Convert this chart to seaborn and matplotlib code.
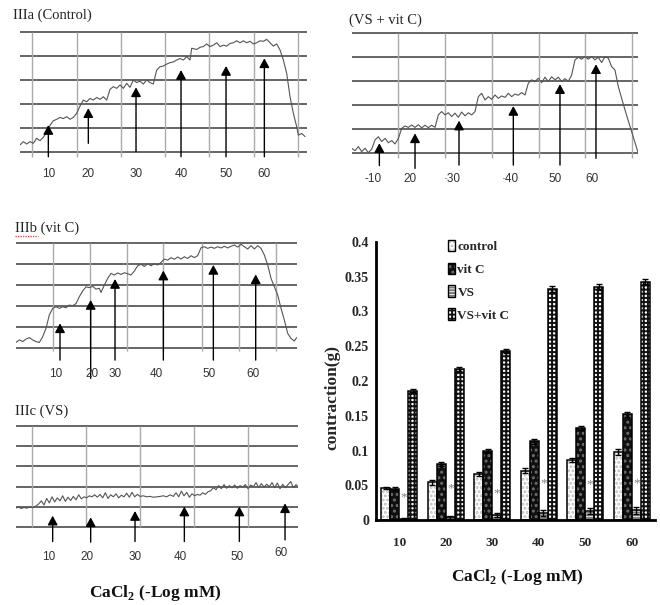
import numpy as np
import pandas as pd
import matplotlib
matplotlib.use("Agg")
import matplotlib.pyplot as plt
import seaborn as sns
from matplotlib.patches import Rectangle, Patch
from matplotlib.container import BarContainer

# ---------------- bar chart data ----------------
conc_labels = ["10", "20", "30", "40", "50", "60"]
groups = ["control", "vit C", "VS", "VS+vit C"]
control = [0.046, 0.054, 0.066, 0.071, 0.086, 0.098]
vit_c = [0.045, 0.081, 0.099, 0.113, 0.132, 0.152]
vs = [0.002, 0.004, 0.007, 0.010, 0.013, 0.014]
vs_vit_c = [0.186, 0.217, 0.243, 0.332, 0.335, 0.343]
err_control = [0.002, 0.003, 0.003, 0.004, 0.003, 0.004]
err_vit_c = [0.002, 0.003, 0.003, 0.004, 0.003, 0.004]
err_vs = [0.001, 0.002, 0.003, 0.004, 0.004, 0.005]
err_vs_vit_c = [0.002, 0.003, 0.003, 0.004, 0.004, 0.004]
star_y = [0.032, 0.045, 0.039, 0.053, 0.052, 0.053]
y_ticks = [0, 0.05, 0.1, 0.15, 0.2, 0.25, 0.3, 0.35, 0.4]
y_tick_labels = ["0", "0.05", "0.1", "0.15", "0.2", "0.25", "0.3", "0.35", "0.4"]

# ---------------- trace data (time units, grid units) ----------------
# IIIa (Control)
a_t = [60, 70, 80, 90, 100, 110, 120, 130, 140, 150, 160, 170, 180, 190, 200, 210, 220, 230, 240, 250,
       260, 270, 280, 290, 300, 310, 320, 330, 340, 350, 360, 370, 380, 390, 400, 410, 420, 430, 440, 450,
       460, 470, 480, 490, 500, 510, 520, 530, 540, 550, 560, 570, 575, 590, 600, 610, 620, 630, 640, 650,
       660, 670, 680, 690, 700, 710, 720, 730, 740, 750, 760, 770, 780, 790, 800, 810, 820, 830, 840, 850,
       860, 870, 880, 890, 895, 905, 915]
a_u = [0.28, 0.42, 0.32, 0.42, 0.35, 0.56, 0.46, 0.60, 0.83, 1.10, 1.29, 1.35, 1.43, 1.38, 1.46, 1.35, 1.43, 1.60, 1.90, 2.15,
       2.08, 2.22, 2.15, 2.26, 2.18, 2.29, 2.15, 2.60, 2.71, 2.64, 2.78, 2.64, 2.85, 2.68, 2.99, 2.88, 2.94, 2.82, 2.99, 2.88,
       2.82, 3.40, 3.54, 3.57, 3.65, 3.71, 3.74, 3.82, 3.88, 3.82, 3.96, 3.82, 4.31, 4.26, 4.35, 4.38, 4.49, 4.38, 4.44, 4.54,
       4.38, 4.44, 4.40, 4.51, 4.54, 4.62, 4.54, 4.62, 4.54, 4.60, 4.49, 4.54, 4.62, 4.60, 4.68, 4.54, 4.40, 4.49, 4.24, 3.82,
       3.26, 2.29, 1.60, 1.04, 0.69, 0.76, 0.63]
a_grid = [97, 230, 363, 495, 628, 762, 895]
a_arrow_t = [145, 265, 408, 543, 678, 793]
a_arrow_base = [-0.21, 0.35, 0.0, -0.21, -0.21, -0.21]
a_arrow_tip = [1.11, 1.81, 2.68, 3.40, 3.57, 3.89]
a_lab_t = [145, 265, 408, 543, 678, 793]
a_labels = ["10", "20", "30", "40", "50", "60"]
a_lab_u = [-0.94] * 6

# (VS + vit C)
d_t = [35, 45, 55, 65, 75, 85, 95, 105, 115, 125, 135, 145, 155, 165, 175, 185, 195, 205, 215, 225,
       235, 245, 255, 265, 275, 285, 295, 305, 315, 325, 335, 345, 355, 365, 375, 385, 395, 405, 415, 425,
       435, 445, 455, 465, 475, 485, 495, 505, 515, 525, 535, 545, 555, 565, 575, 585, 595, 605, 615, 625,
       635, 645, 655, 665, 675, 685, 695, 705, 715, 725, 735, 745, 755, 765, 775, 785, 795, 805, 815, 825,
       835, 855, 875, 895]
d_u = [0.21, 0.11, 0.28, 0.07, 0.21, 0.03, 0.17, 0.56, 0.69, 0.49, 0.62, 0.44, 0.53, 0.39, 0.62, 1.04, 1.14, 1.08, 1.18, 1.08,
       1.19, 1.06, 1.17, 1.07, 1.17, 1.08, 1.60, 1.74, 1.60, 1.69, 1.53, 1.67, 1.50, 1.72, 1.56, 1.69, 1.60, 1.74, 2.36, 2.50,
       2.22, 2.36, 2.25, 2.43, 2.29, 2.39, 2.33, 2.50, 2.36, 2.47, 2.42, 2.53, 2.43, 2.92, 3.06, 2.99, 3.13, 2.94, 3.17, 2.99,
       3.19, 3.06, 3.17, 2.99, 3.11, 3.00, 3.26, 3.89, 4.00, 3.92, 4.03, 3.92, 4.03, 3.89, 4.00, 3.78, 4.03, 3.96, 3.61, 3.47,
       2.78, 1.81, 0.90, 0.00]
d_grid = [175, 316, 456, 596, 736, 877]
d_arrow_t = [118, 225, 357, 520, 660, 768]
d_arrow_base = [-0.51, -0.63, -0.49, -0.49, -0.49, -0.21]
d_arrow_tip = [0.42, 0.83, 1.36, 1.97, 2.88, 3.71]
d_lab_t = [100, 210, 335, 510, 645, 755]
d_labels = ["-10", "20", "\u00b730", "\u00b740", "50", "60"]
d_lab_u = [-1.07] * 6

# IIIb (vit C)
b_t = [48, 58, 68, 78, 88, 98, 108, 118, 128, 138, 148, 158, 168, 178, 188, 198, 208, 218, 228, 238,
       248, 258, 268, 278, 288, 298, 303, 313, 323, 333, 343, 353, 363, 373, 383, 393, 403, 413, 423, 433,
       443, 453, 463, 473, 483, 493, 503, 513, 523, 533, 543, 553, 563, 573, 583, 593, 603, 613, 623, 633,
       643, 653, 663, 673, 683, 693, 703, 713, 723, 733, 743, 753, 763, 773, 783, 793, 803, 813, 823, 833,
       843, 853, 863, 873, 883, 890]
b_u = [0.25, 0.37, 0.29, 0.41, 0.48, 0.37, 0.29, 0.25, 0.52, 0.92, 1.56, 1.87, 1.95, 1.87, 1.95, 1.90, 2.03, 2.00, 2.10, 2.43,
       2.70, 2.90, 2.86, 2.92, 2.79, 2.83, 2.63, 2.98, 3.30, 3.54, 3.46, 3.56, 3.49, 3.57, 3.52, 3.46, 3.65, 3.90, 3.97, 3.87,
       4.00, 3.90, 4.00, 3.94, 4.06, 4.22, 4.17, 4.29, 4.21, 4.32, 4.22, 4.33, 4.25, 4.38, 4.29, 4.38, 4.76, 4.81, 4.73, 4.79,
       4.73, 4.81, 4.75, 4.83, 4.75, 4.83, 4.89, 4.79, 4.92, 4.81, 4.70, 4.86, 4.70, 4.86, 4.73, 4.41, 3.94, 3.30, 2.90, 2.51,
       1.87, 1.32, 0.68, 0.44, 0.32, 0.48]
b_grid = [158, 270, 380, 490, 605, 718, 828]
b_arrow_t = [180, 272, 345, 490, 640, 767]
b_arrow_base = [-0.59, -1.46, -0.59, -0.59, -0.59, -0.59]
b_arrow_tip = [1.16, 2.27, 3.27, 3.67, 3.94, 3.49]
b_lab_t = [167, 275, 345, 470, 627, 760]
b_labels = ["10", "20", "30", "40", "50", "60"]
b_lab_u = [-1.27] * 6

# IIIc (VS)
c_t = [48, 56, 64, 72, 80, 90, 100, 108, 116, 124, 132, 140, 148, 156, 164, 172, 180, 188, 196, 204,
       212, 220, 228, 236, 244, 252, 260, 268, 276, 284, 292, 300, 308, 316, 324, 332, 340, 348, 356, 364,
       372, 380, 388, 396, 404, 412, 420, 430, 440, 450, 460, 470, 480, 490, 500, 510, 520, 528, 536, 544,
       552, 560, 568, 576, 584, 592, 600, 608, 616, 624, 632, 640, 648, 656, 664, 672, 680, 688, 696, 704,
       712, 720, 728, 736, 744, 752, 760, 768, 776, 784, 792, 800, 808, 816, 824, 832, 840, 848, 856, 864,
       872, 880, 888, 893]
c_u = [0.95, 1.00, 0.92, 0.98, 0.94, 1.00, 0.97, 1.05, 1.15, 1.30, 1.10, 1.42, 1.20, 1.50, 1.25, 1.45, 1.30, 1.55, 1.28, 1.48,
       1.32, 1.52, 1.35, 1.60, 1.40, 1.50, 1.45, 1.55, 1.50, 1.60, 1.48, 1.62, 1.45, 1.70, 1.42, 1.60, 1.50, 1.65, 1.45, 1.58,
       1.50, 1.68, 1.48, 1.72, 1.50, 1.62, 1.52, 1.55, 1.50, 1.52, 1.48, 1.50, 1.52, 1.55, 1.50, 1.60, 1.52, 1.70, 1.50, 1.78,
       1.55, 1.72, 1.48, 1.65, 1.55, 1.62, 1.58, 1.70, 1.62, 1.75, 1.80, 1.95, 1.85, 2.05, 1.90, 2.10, 1.92, 2.05, 1.95, 2.08,
       1.92, 2.05, 1.98, 2.10, 1.90, 2.08, 2.00, 2.20, 1.95, 2.15, 1.98, 2.12, 2.00, 2.20, 1.95, 2.18, 1.90, 2.12, 1.95, 2.10,
       2.25, 1.95, 2.10, 2.02]
c_grid = [95, 258, 420, 583, 745]
c_arrow_t = [158, 272, 405, 553, 718, 855]
c_arrow_base = [-0.70, -0.73, -0.70, -0.70, -0.70, -0.62]
c_arrow_tip = [0.57, 0.49, 0.80, 1.02, 1.02, 1.18]
c_lab_t = [145, 262, 405, 540, 710, 842]
c_labels = ["10", "20", "30", "40", "50", "60"]
c_lab_u = [-1.44, -1.44, -1.44, -1.44, -1.44, -1.28]

# ---------------- figure ----------------
W, H = 660, 605
sns.set_style("white")
plt.rcParams["font.family"] = ["Liberation Serif", "DejaVu Serif"]
plt.rcParams["mathtext.fontset"] = "custom"
plt.rcParams["mathtext.rm"] = "Liberation Serif:bold"
plt.rcParams["mathtext.bf"] = "Liberation Serif:bold"
plt.rcParams["hatch.linewidth"] = 1.4

fig = plt.figure(figsize=(W / 100, H / 100), dpi=100)
fig.patch.set_facecolor("white")


def px_axes(l, t, r, b):
    return fig.add_axes([l / W, 1 - b / H, (r - l) / W, (b - t) / H])


def trace_panel(box, xlim, t, u, grid_t, stub, arrow_t, arrow_base, arrow_tip,
                lab_t, labels, lab_u, title, title_xy):
    ax = px_axes(*box)
    ax.set_xlim(xlim)
    ax.set_ylim(0, 5)
    ax.axis("off")
    ax.hlines(range(6), xlim[0], xlim[1], colors="#3c3c3c", lw=1.1, clip_on=False, zorder=1)
    ax.vlines(grid_t, stub, 5, colors="#a9a9a9", lw=1.0, clip_on=False, zorder=1)
    sns.lineplot(x=t, y=u, ax=ax, color="#555555", lw=0.8, zorder=2)
    for x, b0, tp in zip(arrow_t, arrow_base, arrow_tip):
        ax.annotate("", xy=(x, tp), xytext=(x, b0),
                    arrowprops=dict(arrowstyle="-|>,head_length=0.55,head_width=0.3",
                                    color="black", lw=1.0, shrinkA=0, shrinkB=0,
                                    mutation_scale=10),
                    annotation_clip=False, zorder=3)
    for x, s, yy in zip(lab_t, labels, lab_u):
        ax.text(x, yy, s, ha="center", va="center", fontsize=8.5,
                family=["Liberation Sans", "DejaVu Sans"], color="#333333", clip_on=False)
    fig.text(title_xy[0] / W, 1 - title_xy[1] / H, title, ha="left", va="center",
             fontsize=10.5, color="#222222")
    ax.set_xlabel("")
    ax.set_ylabel("")
    return ax


trace_panel((20, 31.7, 306.7, 151.7), (60, 920), a_t, a_u, a_grid, -0.2,
            a_arrow_t, a_arrow_base, a_arrow_tip, a_lab_t, a_labels, a_lab_u,
            "IIIa (Control)", (13, 15))
trace_panel((351.7, 33.3, 638.3, 153.3), (35, 895), d_t, d_u, d_grid, -0.2,
            d_arrow_t, d_arrow_base, d_arrow_tip, d_lab_t, d_labels, d_lab_u,
            "(VS + vit C)", (349, 20))
trace_panel((16, 242.7, 296.7, 347.7), (48, 890), b_t, b_u, b_grid, -0.15,
            b_arrow_t, b_arrow_base, b_arrow_tip, b_lab_t, b_labels, b_lab_u,
            "IIIb (vit C)", (15, 228))
trace_panel((16, 425.7, 297.7, 527.3), (48, 893), c_t, c_u, c_grid, 0,
            c_arrow_t, c_arrow_base, c_arrow_tip, c_lab_t, c_labels, c_lab_u,
            "IIIc (VS)", (15, 411))
# spell-check squiggle under IIIb
fig.add_artist(plt.Line2D([15 / W, 38 / W], [1 - 236 / H, 1 - 236 / H], color="#e03030",
                          lw=0.9, ls=(0, (1, 1))))

# ---------------- bar chart ----------------
axb = px_axes(376, 242, 655, 520)
values = [control, vit_c, vs, vs_vit_c]
errors = [err_control, err_vit_c, err_vs, err_vs_vit_c]
rows = [(c, g, v) for g, vals in zip(groups, values) for c, v in zip(conc_labels, vals)]
df = pd.DataFrame(rows, columns=["conc", "group", "value"])

sns.barplot(data=df, x="conc", y="value", hue="group", order=conc_labels, hue_order=groups,
            palette={g: "white" for g in groups}, width=0.78, errorbar=None, legend=False,
            ax=axb, zorder=2)

face_cols = ["white", "#101010", "white", "white"]
hatches = ["....", "...", "------", "++++"]
hatch_cols = ["#bdbdbd", "#6e6e6e", "#7a7a7a", "#111111"]

bar_conts = [c for c in axb.containers if isinstance(c, BarContainer)]
for i, cont in enumerate(bar_conts):
    for j, bar in enumerate(list(cont)):
        bar.set_facecolor(face_cols[i])
        bar.set_hatch(hatches[i])
        bar.set_edgecolor(hatch_cols[i])
        bar.set_linewidth(0)
        x0, w, h = bar.get_x(), bar.get_width(), bar.get_height()
        axb.add_patch(Rectangle((x0, 0), w, h, fill=False, edgecolor="black", lw=1.1, zorder=3))
        axb.errorbar(x0 + w / 2, h, yerr=errors[i][j], color="black", lw=1.0,
                     capsize=2.5, capthick=1.0, zorder=4)
        if i == 2:
            axb.text(x0 + w / 2, star_y[j], "*", ha="center", va="center", fontsize=9.5,
                     color="#808080", zorder=5)

axb.set_xlim(-0.5, 5.5)
axb.set_ylim(0, 0.4)
axb.set_yticks(y_ticks)
axb.set_yticklabels(y_tick_labels, fontsize=10, fontweight="bold")
axb.set_xticks(range(6))
axb.set_xticklabels(conc_labels, fontsize=9.5, fontweight="bold")
axb.set_xticks(np.arange(-0.5, 6, 1), minor=True)
axb.tick_params(axis="x", which="major", length=0, pad=12)
axb.tick_params(axis="x", which="minor", length=4, width=1.5, direction="out", color="black")
axb.tick_params(axis="y", which="major", length=3, width=2, direction="out", color="black", pad=2)
for s in ["top", "right"]:
    axb.spines[s].set_visible(False)
for s in ["left", "bottom"]:
    axb.spines[s].set_linewidth(2)
    axb.spines[s].set_color("black")
axb.set_xlabel("")
axb.set_ylabel("")
axb.grid(False)

handles = [(Patch(facecolor=face_cols[i], hatch=hatches[i], edgecolor=hatch_cols[i], lw=0),
            Patch(fill=False, edgecolor="black", lw=1.0)) for i in range(4)]
leg = axb.legend(handles, groups, loc="upper left", bbox_to_anchor=(441 / W, 1 - 233 / H),
                 bbox_transform=fig.transFigure, frameon=False, handlelength=0.55,
                 handleheight=1.0, handletextpad=0.2, labelspacing=0.72, borderpad=0,
                 prop={"family": "Liberation Serif", "weight": "bold", "size": 9.5})

fig.text(332 / W, 1 - 398 / H, "contraction(g)", rotation=90, ha="center", va="center",
         fontsize=12.5, fontweight="bold")
fig.text(517 / W, 1 - 577 / H, r"CaCl$_{\mathbf{2}}$ (-Log mM)", ha="center", va="center",
         fontsize=12.5, fontweight="bold", color="#111111")
fig.text(155 / W, 1 - 593 / H, r"CaCl$_{\mathbf{2}}$ (-Log mM)", ha="center", va="center",
         fontsize=12.5, fontweight="bold", color="#111111")

fig.savefig("out.png", dpi=100, facecolor="white")
